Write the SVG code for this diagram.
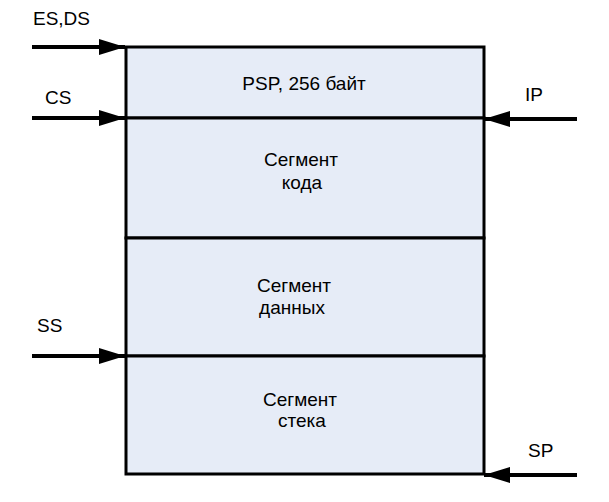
<svg xmlns="http://www.w3.org/2000/svg" width="609" height="502" viewBox="0 0 609 502">
<defs>
<style>
text{font-family:"Liberation Sans",Arial,sans-serif;font-size:19px;fill:#000}
.c{text-anchor:middle}
.seg{fill:#e6ecf7;stroke:#000;stroke-width:3}
.arr{stroke:#000;stroke-width:4;fill:none}
</style>
<marker id="ah" viewBox="0 0 26 16" refX="26" refY="8" markerWidth="26" markerHeight="16" markerUnits="userSpaceOnUse" orient="auto">
<path d="M0,0 L26,8 L0,16 Z" fill="#000"/>
</marker>
</defs>
<g id="psp"><rect class="seg" x="126" y="47" width="358" height="71"/><text class="c" x="304" y="90">PSP, 256 байт</text></g>
<g id="code"><rect class="seg" x="126" y="118" width="358" height="120"/><text class="c" x="301" y="166">Сегмент</text><text class="c" x="302" y="189">кода</text></g>
<g id="data"><rect class="seg" x="126" y="238" width="358" height="118"/><text class="c" x="294" y="292">Сегмент</text><text class="c" x="292" y="314">данных</text></g>
<g id="stack"><rect class="seg" x="126" y="356" width="358" height="118"/><text class="c" x="300" y="406">Сегмент</text><text class="c" x="302" y="427">стека</text></g>
<g id="labels">
<text x="33" y="25">ES,DS</text>
<text x="45" y="104">CS</text>
<text x="37" y="332">SS</text>
<text x="525" y="101">IP</text>
<text x="528" y="457">SP</text>
</g>
<g id="connectors">
<line class="arr" x1="32" y1="47" x2="125" y2="47" marker-end="url(#ah)"/>
<line class="arr" x1="32" y1="118" x2="125" y2="118" marker-end="url(#ah)"/>
<line class="arr" x1="32" y1="356" x2="125" y2="356" marker-end="url(#ah)"/>
<line class="arr" x1="577" y1="119" x2="484" y2="119" marker-end="url(#ah)"/>
<line class="arr" x1="577" y1="475" x2="484" y2="475" marker-end="url(#ah)"/>
</g>
</svg>
